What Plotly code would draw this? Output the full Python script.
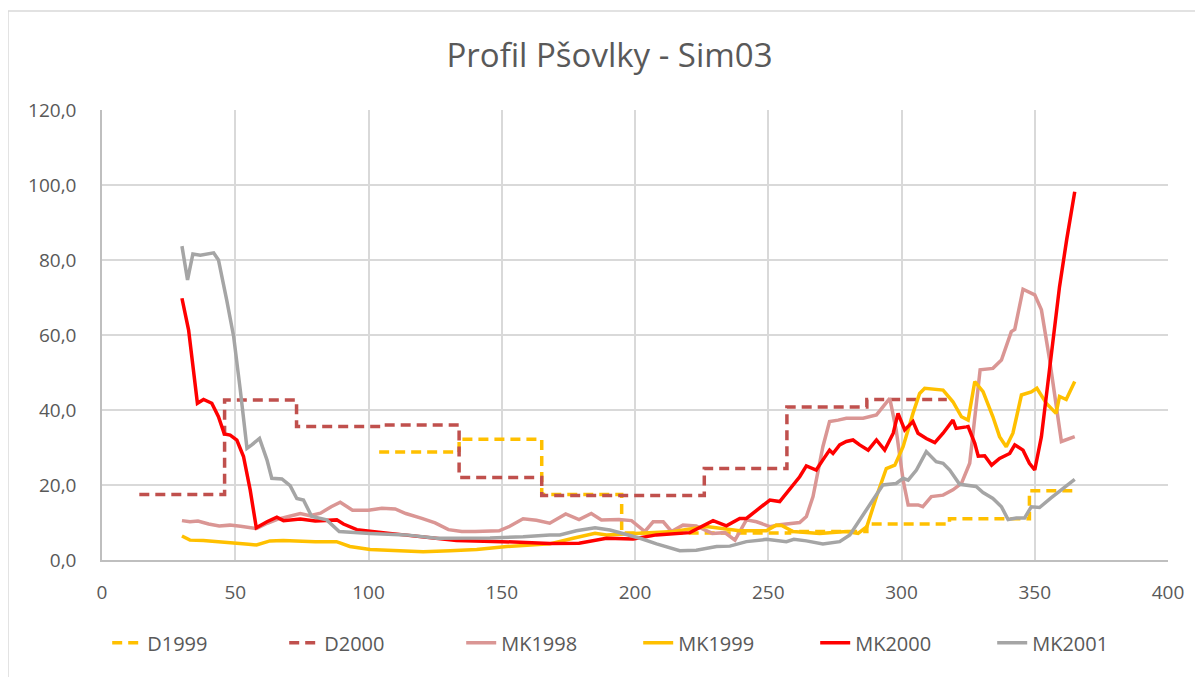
import plotly.graph_objects as go

# step series (measured profiles)
d1999_x = [104, 134, 165, 195, 258, 287, 318, 348, 365]
d1999_y = [28.8, 32.2, 17.5, 7.2, 7.6, 9.6, 11.0, 18.5, 18.5]

d2000_x = [14, 46, 73, 105, 134, 165, 226, 257, 287, 317]
d2000_y = [17.5, 42.7, 35.6, 36.0, 22.0, 17.2, 24.4, 40.8, 42.8, 42.8]

# simulated series
mk1998_x = [30, 33, 36, 40, 44, 48, 52, 55, 58, 62, 66, 70, 74.4, 78, 82, 86, 89.4, 92, 94,
            100, 105, 110, 114, 120, 125, 130, 135, 140, 149, 153, 158, 163, 168, 174, 179,
            183.6, 187.4, 194, 198.7, 203.7, 206.8, 210.6, 213.7, 218, 223, 229, 233.7,
            237.5, 241.8, 245.6, 250.6, 254.3, 261.8, 264.3, 266.8, 270.5, 273, 276.2,
            279.3, 285.6, 290.6, 295.6, 298, 300.6, 302.5, 306.2, 308, 311.2, 315.6, 319.3,
            322.5, 325.6, 328.3, 329.5, 334.3, 337.5, 341.2, 342.5, 345.6, 350, 352.5,
            355.6, 360, 365]
mk1998_y = [10.5, 10.2, 10.4, 9.6, 9.1, 9.3, 9.0, 8.6, 8.4, 9.8, 10.9, 11.6, 12.4, 11.8,
            12.5, 14.2, 15.4, 14.2, 13.3, 13.3, 13.8, 13.6, 12.4, 11.1, 9.9, 8.1, 7.6, 7.6,
            7.8, 9.0, 11.0, 10.6, 9.8, 12.3, 10.8, 12.4, 10.7, 10.8, 10.5, 7.6, 10.2, 10.2,
            7.6, 9.3, 9.1, 7.1, 7.3, 5.3, 10.7, 10.2, 8.9, 9.4, 10.0, 11.6, 16.9, 30.2, 36.9,
            37.3, 37.8, 37.8, 38.7, 43.1, 34.7, 21.3, 14.7, 14.7, 14.2, 16.9, 17.3, 18.7,
            20.4, 25.8, 42.0, 50.7, 51.1, 53.3, 60.9, 61.5, 72.2, 70.7, 66.7, 53.3, 31.6, 32.9]

mk1999_x = [30, 33, 38, 44.4, 50, 55, 58, 63, 68, 74.4, 80, 88, 93, 100.6, 114, 120.5,
            130.6, 140.6, 151.9, 160, 168, 176.8, 185, 189.3, 199.3, 214.4, 226.8, 239.3,
            249.3, 253, 255, 259.3, 269.3, 279.3, 283.7, 287, 290.6, 294.3, 297.5, 300.6,
            304.3, 306.8, 308.7, 315.6, 319.3, 322.5, 325, 327.5, 330.6, 334.3, 336.8,
            339.3, 341.8, 345, 348.7, 350.8, 354.3, 358, 359.3, 361.8, 365]
mk1999_y = [6.4, 5.3, 5.2, 4.9, 4.6, 4.2, 4.0, 5.1, 5.2, 5.0, 4.9, 4.9, 3.6, 2.8, 2.5, 2.2,
            2.5, 2.8, 3.6, 3.9, 4.3, 5.8, 7.1, 6.7, 7.1, 7.6, 8.9, 7.8, 7.8, 9.3, 9.2, 7.6,
            7.1, 7.6, 7.1, 8.9, 16.9, 24.4, 25.3, 30.2, 39.1, 44.4, 45.8, 45.3, 42.2, 38.2,
            37.3, 47.6, 44.9, 38.2, 32.9, 30.2, 33.8, 44.0, 44.8, 45.8, 41.8, 39.1, 43.6,
            42.8, 47.6]

mk2000_x = [30, 32.5, 35.8, 38.1, 41.2, 43.7, 45.9, 48.1, 50.6, 53.1, 55.6, 57.9, 61.9,
            65.6, 68.1, 74.4, 80, 88.1, 90.6, 95.6, 108, 120.6, 133, 150, 168, 179, 189.3,
            199.3, 208, 220.6, 229.3, 234.3, 239.3, 241.8, 246.8, 250.6, 254.3, 258.1, 260,
            261.8, 264.3, 268, 270.5, 273, 274.3, 276.8, 279.3, 281.8, 284.3, 287.5, 290.6,
            293.7, 296.9, 298.7, 301.2, 304.3, 306.2, 309.3, 312.5, 315.6, 319.3, 320.5,
            324.3, 325, 327.5, 328.8, 331.2, 333.8, 336.8, 340.6, 342.5, 345.6, 348, 350,
            352.5, 355.6, 359.3, 362, 365]
mk2000_y = [69.8, 61.3, 41.8, 42.8, 41.8, 38.2, 33.6, 33.3, 32.0, 27.6, 18.7, 8.6, 10.2,
            11.4, 10.5, 10.9, 10.4, 10.7, 9.6, 8.1, 7.1, 6.2, 5.2, 4.9, 4.4, 4.5, 5.8, 5.6,
            6.7, 7.3, 10.5, 9.1, 11.1, 11.1, 13.8, 16.0, 15.6, 19.1, 20.9, 22.2, 25.1, 24.0,
            26.7, 29.3, 28.4, 30.7, 31.6, 32.0, 30.7, 29.3, 32.0, 29.3, 33.8, 39.1, 34.7,
            36.9, 33.8, 32.4, 31.3, 33.8, 37.3, 35.1, 35.5, 35.6, 31.1, 27.7, 27.8, 25.3,
            27.1, 28.4, 30.7, 29.3, 25.8, 24.0, 32.9, 50.7, 72.9, 85.5, 98.2]

mk2001_x = [30, 32.1, 34.1, 36.9, 41.9, 43.7, 46.8, 49.4, 51.9, 54.4, 56.2, 59.1, 61.9,
            63.7, 67.5, 70.6, 73.1, 75.6, 78.7, 84.3, 89, 95.6, 100.6, 114, 125.6, 145.6,
            158, 168, 171.8, 178, 185, 190.6, 195.6, 201.9, 208.1, 216.8, 223, 230.6, 235.6,
            241.8, 249.3, 256.8, 259.6, 264.3, 270.5, 276.8, 280.6, 284.3, 288, 293, 298,
            300.6, 302.5, 305.6, 309.3, 313, 315.6, 318.1, 321.8, 324.3, 328, 330.6, 334.3,
            337.5, 340, 343.1, 346.2, 348.7, 351.8, 356, 360, 365]
mk2001_y = [83.7, 74.7, 81.6, 81.3, 81.9, 80.0, 69.3, 59.6, 45.3, 29.8, 30.7, 32.4, 26.7,
            21.8, 21.6, 19.8, 16.4, 16.0, 11.6, 10.7, 7.6, 7.3, 7.1, 6.7, 5.8, 5.9, 6.2, 6.7,
            6.7, 7.8, 8.6, 8.0, 7.1, 5.8, 4.3, 2.5, 2.6, 3.6, 3.7, 4.9, 5.5, 4.9, 5.5, 5.1,
            4.3, 4.9, 6.7, 10.7, 14.7, 20.0, 20.4, 21.8, 21.3, 24.0, 28.9, 26.2, 25.8, 24.0,
            20.2, 20.0, 19.6, 18.0, 16.4, 14.2, 10.8, 11.2, 11.2, 14.2, 14.0, 16.5, 18.8, 21.5]

fig = go.Figure()

# dashed step lines
fig.add_trace(go.Scatter(x=d1999_x, y=d1999_y, mode="lines", name="D1999", line_shape="hv",
                         line=dict(color="#FFC000", width=3.5, dash="10px,6px")))
fig.add_trace(go.Scatter(x=d2000_x, y=d2000_y, mode="lines", name="D2000", line_shape="hv",
                         line=dict(color="#C0504D", width=3.5, dash="10px,6px")))

# solid simulated lines
fig.add_trace(go.Scatter(x=mk1998_x, y=mk1998_y, mode="lines", name="MK1998",
                         line=dict(color="#DA9694", width=3.5)))
fig.add_trace(go.Scatter(x=mk1999_x, y=mk1999_y, mode="lines", name="MK1999",
                         line=dict(color="#FFC000", width=3.5)))
fig.add_trace(go.Scatter(x=mk2000_x, y=mk2000_y, mode="lines", name="MK2000",
                         line=dict(color="#FF0000", width=3.5)))
fig.add_trace(go.Scatter(x=mk2001_x, y=mk2001_y, mode="lines", name="MK2001",
                         line=dict(color="#A5A5A5", width=3.5)))

# page body has an 8px margin, so margins are offset by 8
fig.update_layout(
    title=dict(text="Profil Pšovlky - Sim03", x=0.5, xanchor="center",
               y=0.9306, yanchor="middle", yref="container",
               font=dict(family="Open Sans", size=33, color="#595959")),
    width=1203,
    height=677,
    margin=dict(l=94, r=43, t=102, b=125),
    paper_bgcolor="white",
    plot_bgcolor="white",
    separators=", ",
    font=dict(family="Open Sans", size=19, color="#595959"),
    showlegend=True,
    legend=dict(orientation="h", x=0.503, xanchor="center", y=-0.184, yanchor="middle",
                font=dict(size=20, color="#595959"), entrywidth=132,
                bgcolor="rgba(255,255,255,0)"),
    # chart area border like Excel
    shapes=[dict(type="rect", xref="paper", yref="paper",
                 x0=-0.0882, x1=1.04, y0=-0.29, y1=1.22,
                 line=dict(color="#D9D9D9", width=1.5), layer="below")],
)

fig.update_xaxes(range=[0, 400], dtick=50, showgrid=True, gridcolor="#D9D9D9", gridwidth=1.5,
                 showline=True, linecolor="#BFBFBF", linewidth=1.5, zeroline=False,
                 automargin=False, ticks="", ticklabelstandoff=14,
                 tickfont=dict(size=19, color="#595959"))
fig.update_yaxes(range=[0, 120], dtick=20, tickformat=".1f", showgrid=True,
                 gridcolor="#D9D9D9", gridwidth=1.5, showline=True, linecolor="#BFBFBF",
                 linewidth=1.5, zeroline=False, automargin=False, ticks="",
                 ticklabelstandoff=20, tickfont=dict(size=19, color="#595959"))

fig.write_html("out.html")
